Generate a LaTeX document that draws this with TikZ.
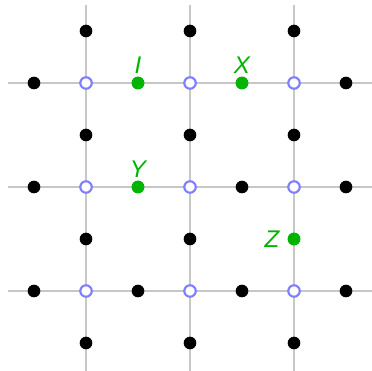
\documentclass[tikz,border=0pt]{standalone}
\usepackage{fontspec}
\setmainfont{Liberation Sans}
\usepackage{tikz}
\usetikzlibrary{positioning}
\definecolor{ptgreen}{RGB}{0,180,0}
\definecolor{ptblue}{RGB}{128,128,255}

\begin{document}
\begin{tikzpicture}[x=1.5cm,y=1.5cm]
\tikzstyle{gridline}=[black!22,line width=0.45pt]
\tikzstyle{edgept}=[circle,fill=black,inner sep=0pt,minimum size=5.2pt]
\tikzstyle{vertpt}=[circle,draw=ptblue,fill=white,line width=0.9pt,inner sep=0pt,minimum size=4.7pt]
\tikzstyle{markpt}=[circle,fill=ptgreen,inner sep=0pt,minimum size=5.3pt]
\tikzstyle{marklabel}=[text=ptgreen,font=\fontsize{9.9}{11}\selectfont\itshape,inner sep=0pt]

\useasboundingbox (-0.827,-2.769) rectangle (2.75,0.798);

% lattice lines
\foreach \k in {0,1,2} {
  \draw[gridline] (\k,0.75) -- (\k,-2.8);
  \draw[gridline] (-0.75,-\k) -- (2.8,-\k);
}

% vertices
\foreach \i in {0,1,2}
  \foreach \j in {0,1,2}
    \node[vertpt] (v-\i-\j) at (\i,-\j) {};

% edge midpoints
\foreach \px/\py [count=\n] in {-0.5/0, 2.5/0, -0.5/-1, 1.5/-1, 2.5/-1,
    -0.5/-2, 0.5/-2, 1.5/-2, 2.5/-2}
  \node[edgept] (h\n) at (\px,\py) {};
\foreach \px/\py [count=\n] in {0/0.5, 1/0.5, 2/0.5, 0/-0.5, 1/-0.5, 2/-0.5,
    0/-1.5, 1/-1.5, 0/-2.5, 1/-2.5, 2/-2.5}
  \node[edgept] (e\n) at (\px,\py) {};

% marked points
\node[markpt] (I) at (0.5,0) {};
\node[markpt] (X) at (1.5,0) {};
\node[markpt] (Y) at (0.5,-1) {};
\node[markpt] (Z) at (2,-1.5) {};

\node[marklabel,anchor=base] (lI) at ([yshift=10pt*0.41]I.center) {I};
\node[marklabel,anchor=base] (lX) at ([yshift=10pt*0.41]X.center) {X};
\node[marklabel,anchor=base] (lY) at ([yshift=10pt*0.41]Y.center) {Y};
\node[marklabel,left=3pt of Z] (lZ) {Z};
\end{tikzpicture}
\end{document}
